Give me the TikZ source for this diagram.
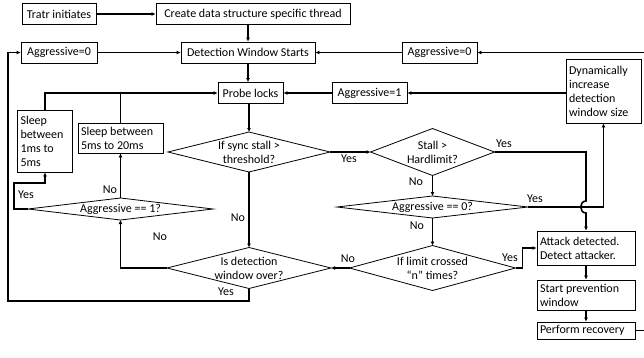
\documentclass[tikz,border=0pt]{standalone}
\usepackage{fontspec}
\setmainfont{Carlito}
\usetikzlibrary{shapes.geometric,arrows.meta}

\begin{document}
\begin{tikzpicture}[x=1pt, y=-1pt,
   every node/.style={font=\fontsize{12}{14}\selectfont},
   box/.style={draw, line width=0.8pt, inner sep=2pt, minimum height=21pt},
   lbox/.style={box, align=flush left, inner sep=3pt, text width=#1},
   dec/.style 2 args={diamond, draw, line width=0.8pt, inner sep=0pt, outer sep=0pt,
                      minimum width=#1, minimum height=#2},
   line/.style={line width=1.6pt},
   arr/.style={line, -{Latex[length=4pt,width=4pt]}}]
\useasboundingbox (0,0) rectangle (644,357);

% boxes
\node[box, minimum width=74pt]  (tratr)  at (59,14)     {Tratr initiates};
\node[box, minimum width=194pt] (create) at (253,14)    {Create data structure specific thread};
\node[box, minimum width=76pt]  (aggL)   at (59,52.5)   {Aggressive=0};
\node[box, minimum width=134pt] (detect) at (248,52.5)  {Detection Window Starts};
\node[box, minimum width=75pt]  (aggR)   at (439.5,52.5){Aggressive=0};
\node[box, minimum width=65pt]  (probe)  at (250.5,93)  {Probe locks};
\node[box, minimum width=75pt]  (agg1)   at (369.5,93)  {Aggressive=1};
\node[lbox=69pt, minimum height=64pt] (dyn)    at (603.5,91)  {Dynamically\\increase\\detection\\window size};
\node[lbox=49pt, minimum height=62pt] (sleep1) at (45,141)    {Sleep\\between\\1ms to\\5ms};
\node[lbox=79pt, minimum height=30pt] (sleep2) at (120.5,138) {Sleep between\\5ms to 20ms};
\node[lbox=92pt, minimum height=34pt] (attack) at (586,248)   {Attack detected.\\Detect attacker.};
\node[lbox=92pt, minimum height=30pt] (prevent) at (586,295)  {Start prevention\\window};
\node[lbox=92pt, minimum height=17pt, inner ysep=1pt] (recovery) at (586,330.5) {Perform recovery};

% decisions
\node[dec={162}{40}, label={[align=center]center:If sync stall >\\threshold?}] (sync) at (249,152) {};
\node[dec={124}{47}, label={[align=center]center:Stall >\\Hardlimit?}]       (hard) at (432.5,152) {};
\node[dec={191}{22}, label={center:Aggressive == 0?}]                         (agg0) at (432.5,207) {};
\node[dec={166}{45}, label={[align=center]center:If limit crossed\\“n” times?}] (limit) at (432.5,268) {};
\node[dec={164}{41}, label={[align=center]center:Is detection\\window over?}]  (over) at (249,268) {};
\node[dec={185}{22}, label={center:Aggressive == 1?}]                         (agg1q) at (120.5,209) {};

\coordinate (yesbend) at (14,183);
\coordinate (loopbot) at (8,301);
\coordinate (hopa) at (586,201);
\coordinate (hopb) at (586,213);

% connectors
\draw[arr] (tratr) -- (create);
\draw[arr] (detect.north |- create.south) -- (detect.north);
\draw[arr] (aggL) -- (detect);
\draw[arr] (aggR) -- (detect);
\draw[arr] (recovery.east) -- ++(20,0) |- (aggR.east);
\draw[arr] (detect.south) -- (detect.south |- probe.north);
\draw[arr] (dyn.west |- agg1) -- (agg1.east);
\draw[arr] (agg1) -- (probe);
\draw[arr] (probe.south -| sync.north) -- (sync.north);
\draw[arr] (sleep1.north) |- (probe.west);
\draw[line] (sleep2.north) -- (sleep2.north |- probe.west);
\draw[arr] (agg1q.west) -| (yesbend) -| (sleep1.south);
\draw[arr] (agg1q.north) -- (sleep2.south);
\draw[arr] (over.west) -| (agg1q.south);
\draw[arr] (sync.south) -- (over.north);
\draw[arr] (over.south) |- (loopbot) |- (aggL.west);
\draw[arr] (sync.east) -- (hard.west);
\draw[arr] (hard.east) -| (hopa) .. controls +(-7,0) and +(-7,0) .. (hopb) -- (attack.north);
\draw[arr] (hard.south) -- (agg0.north);
\draw[arr] (agg0.east) -| (dyn.south);
\draw[arr] (agg0.south) -- (limit.north);
\draw[arr] (limit.east) -- ++(7,0) |- (attack.west);
\draw[arr] (limit.west) -- (over.east);
\draw[arr] (attack) -- (prevent);
\draw[arr] (prevent) -- (recovery);

% edge labels
\node (yesA) at (26,195)  {Yes};
\node (noA)  at (110,190) {No};
\node (noB)  at (238,218) {No};
\node (noC)  at (160,237) {No};
\node (yesB) at (226,292) {Yes};
\node (yesC) at (349,159) {Yes};
\node (yesD) at (504,144) {Yes};
\node (noD)  at (416,182) {No};
\node (yesE) at (535,199) {Yes};
\node (noE)  at (417,226) {No};
\node (noF)  at (348,259) {No};
\node (yesF) at (510,258) {Yes};
\end{tikzpicture}
\end{document}
